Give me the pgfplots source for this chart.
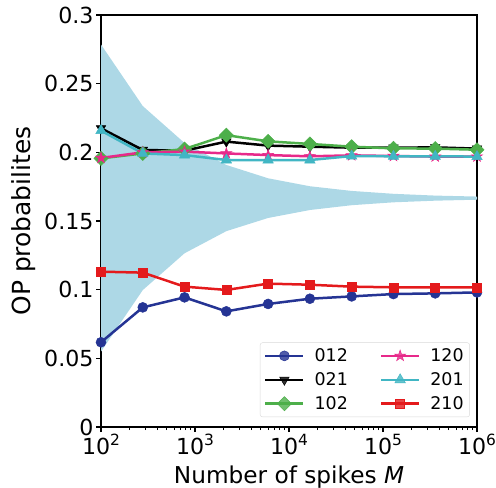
\documentclass[border=0pt]{standalone}
\usepackage{pgfplots}
\pgfplotsset{compat=1.18}
\usepackage{fontspec}
\setmainfont{DejaVu Sans}
\definecolor{c012}{HTML}{253494}
\definecolor{c102}{HTML}{4DAF4A}
\definecolor{c120}{HTML}{E7298A}
\definecolor{c201}{HTML}{41B6C4}
\definecolor{c210}{HTML}{E41A1C}
\definecolor{shade}{HTML}{ADD8E6}
\pgfdeclareplotmark{fstar}{%
  \pgfpathmoveto{\pgfpointpolar{90}{1.3\pgfplotmarksize}}%
  \pgfpathlineto{\pgfpointpolar{126}{0.5\pgfplotmarksize}}%
  \pgfpathlineto{\pgfpointpolar{162}{1.3\pgfplotmarksize}}%
  \pgfpathlineto{\pgfpointpolar{198}{0.5\pgfplotmarksize}}%
  \pgfpathlineto{\pgfpointpolar{234}{1.3\pgfplotmarksize}}%
  \pgfpathlineto{\pgfpointpolar{270}{0.5\pgfplotmarksize}}%
  \pgfpathlineto{\pgfpointpolar{306}{1.3\pgfplotmarksize}}%
  \pgfpathlineto{\pgfpointpolar{342}{0.5\pgfplotmarksize}}%
  \pgfpathlineto{\pgfpointpolar{18}{1.3\pgfplotmarksize}}%
  \pgfpathlineto{\pgfpointpolar{54}{0.5\pgfplotmarksize}}%
  \pgfpathclose\pgfusepathqfillstroke}
\newcommand{\expo}[1]{\raisebox{8.5bp}{\fontsize{15.5}{16}\selectfont #1}}
\begin{document}
\begin{tikzpicture}
\begin{axis}[name=ax,
  scale only axis, width=376bp, height=412bp,
  xmode=log, xmin=100, xmax=1000000, ymin=0, ymax=0.3,
  axis line style={line width=1.1bp},
  tick style={line width=1.1bp, black},
  tick align=outside, xtick pos=bottom, ytick pos=left,
  major tick length=5bp, minor tick length=3bp,
  xtick={100,1000,10000,100000,1000000},
  xticklabels={10\expo{2},10\expo{3},10\expo{4},10\expo{5},10\expo{6}},
  ytick={0,0.05,0.1,0.15,0.2,0.25,0.3},
  yticklabels={0,0.05,0.1,0.15,0.2,0.25,0.3},
  ticklabel style={font=\fontsize{22.2}{24}\selectfont},
  xticklabel style={yshift=1bp},
  yticklabel style={xshift=1bp},
  xlabel={Number of spikes \textit{M}},
  ylabel={OP probabilites},
  xlabel style={font=\fontsize{23.3}{26}\selectfont, yshift=-4bp},
  ylabel style={font=\fontsize{25}{28}\selectfont, yshift=2bp},
  legend columns=3, transpose legend,
  legend style={at={(0.981,0.024)}, anchor=south east, font=\fontsize{17.5}{20}\selectfont,
    draw=black!15, rounded corners=2.5bp, fill=white, fill opacity=0.8, text opacity=1,
    row sep=5.5bp, column sep=8bp, inner xsep=4bp, inner ysep=4bp,
    /tikz/every even column/.append style={column sep=30bp}},
  legend cell align=left,
  legend image code/.code={\draw[mark repeat=2,mark phase=2] plot coordinates {(0bp,0bp)(19bp,0bp)(38bp,0bp)};},
  every axis plot/.append style={line width=2.5bp},
]
\addplot[fill=shade, draw=none, forget plot, line width=0pt] coordinates {
(100,0.2785) (278.26,0.2337) (774.26,0.2068) (2154.43,0.1908) (5994.84,0.1811) (16681,0.1753) (46415.9,0.1719) (129155,0.1698) (359381,0.1685) (1000000,0.1678)
(1000000,0.1655) (359381,0.1648) (129155,0.1636) (46415.9,0.1615) (16681,0.1580) (5994.84,0.1522) (2154.43,0.1426) (774.26,0.1265) (278.26,0.0997) (100,0.0549)
} -- cycle;
\addplot[c012, mark=*, mark size=5bp, mark options={fill=c012, line width=0.5bp}] coordinates {
(100,0.0617) (278.26,0.0871) (774.26,0.0944) (2154.43,0.0842) (5994.84,0.0896) (16681,0.0934) (46415.9,0.0951) (129155,0.0968) (359381,0.0973) (1000000,0.0980)};
\addlegendentry{012}
\addplot[black, mark=triangle*, mark size=5.5bp, mark options={rotate=180, fill=black, line width=0.5bp}] coordinates {
(100,0.2175) (278.26,0.2017) (774.26,0.2012) (2154.43,0.2078) (5994.84,0.2049) (16681,0.2041) (46415.9,0.2034) (129155,0.2034) (359381,0.2036) (1000000,0.2027)};
\addlegendentry{021}
\addplot[c102, mark=square*, mark size=5bp, mark options={rotate=45, fill=c102, line width=0.5bp}] coordinates {
(100,0.1956) (278.26,0.1992) (774.26,0.2024) (2154.43,0.2125) (5994.84,0.2080) (16681,0.2061) (46415.9,0.2041) (129155,0.2029) (359381,0.2027) (1000000,0.2019)};
\addlegendentry{102}
\addplot[c120, mark=fstar, mark size=4.5bp, mark options={fill=c120, line width=0.5bp}] coordinates {
(100,0.1959) (278.26,0.2000) (774.26,0.2005) (2154.43,0.1992) (5994.84,0.1980) (16681,0.1971) (46415.9,0.1978) (129155,0.1973) (359381,0.1969) (1000000,0.1969)};
\addlegendentry{120}
\addplot[c201, mark=triangle*, mark size=6bp, mark options={fill=c201, line width=0.5bp}] coordinates {
(100,0.2158) (278.26,0.1992) (774.26,0.1980) (2154.43,0.1944) (5994.84,0.1944) (16681,0.1944) (46415.9,0.1973) (129155,0.1971) (359381,0.1971) (1000000,0.1969)};
\addlegendentry{201}
\addplot[c210, mark=square*, mark size=4.5bp, mark options={fill=c210, line width=0.5bp}] coordinates {
(100,0.1131) (278.26,0.1124) (774.26,0.1022) (2154.43,0.0998) (5994.84,0.1044) (16681,0.1036) (46415.9,0.1022) (129155,0.1017) (359381,0.1017) (1000000,0.1017)};
\addlegendentry{210}
\end{axis}
\pgfresetboundingbox
\path[use as bounding box] ([xshift=-101bp,yshift=-61bp]ax.south west) rectangle ([xshift=19bp,yshift=15bp]ax.north east);
\end{tikzpicture}
\end{document}
